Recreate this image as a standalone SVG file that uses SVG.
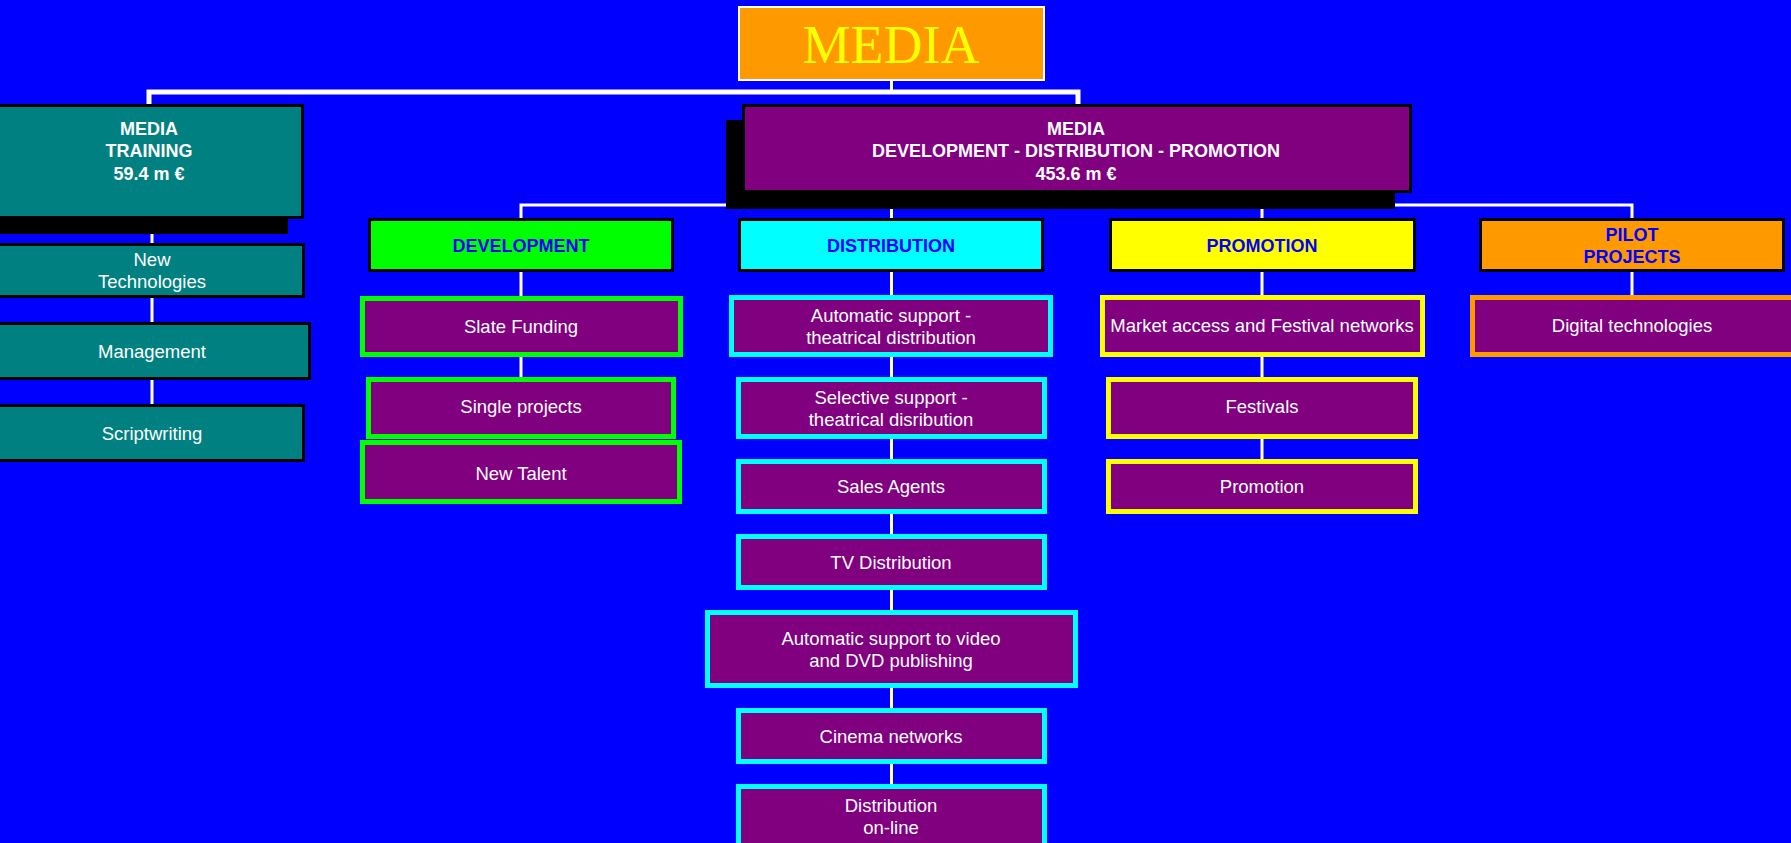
<svg xmlns="http://www.w3.org/2000/svg" width="1791" height="843" viewBox="0 0 1791 843">
<style>
.t{font-family:"Liberation Sans",Arial,sans-serif;font-size:18.5px;fill:#FFFFFF;text-anchor:middle}
.b{font-weight:bold;font-size:18px}
.h{font-family:"Liberation Sans",Arial,sans-serif;font-weight:bold;font-size:18px;fill:#0000FF;text-anchor:middle}
.teal{fill:#008080;stroke:#000;stroke-width:3}
.l2{stroke:#000;stroke-width:3}
.p{fill:#800080;stroke-width:5}
.g{stroke:#00FF00}.c{stroke:#00FFFF}.y{stroke:#FFFF00}.o{stroke:#FF9900}
.ln{stroke:#FFF;stroke-width:3;fill:none}
</style>
<rect x="0" y="0" width="1791" height="843" fill="#0000FF"/>
<g id="connectors">
<polyline class="ln" points="149,104 149,92 1078,92 1078,104" style="stroke-width:5"/>
<line class="ln" x1="891.5" y1="81" x2="891.5" y2="92"/>
<polyline class="ln" points="521,218 521,205 1632,205 1632,218"/>
<line class="ln" x1="891.5" y1="193" x2="891.5" y2="218"/>
<line class="ln" x1="1262" y1="205" x2="1262" y2="218"/>
<line class="ln" x1="152" y1="219" x2="152" y2="243"/>
<line class="ln" x1="152" y1="298" x2="152" y2="322"/>
<line class="ln" x1="152" y1="380" x2="152" y2="404"/>
<line class="ln" x1="521" y1="272" x2="521" y2="296"/>
<line class="ln" x1="521" y1="357" x2="521" y2="377"/>
<line class="ln" x1="891.5" y1="272" x2="891.5" y2="784"/>
<line class="ln" x1="1262" y1="272" x2="1262" y2="459"/>
<line class="ln" x1="1632" y1="272" x2="1632" y2="295"/>
</g>
<g id="media">
<rect x="739" y="7" width="305" height="73" fill="#FF9900" stroke="#FFF" stroke-width="2"/>
<text x="891" y="63" font-family="'Liberation Serif','Times New Roman',serif" font-size="54" fill="#FFFF00" text-anchor="middle">MEDIA</text>
</g>
<g id="training">
<rect x="-36" y="119" width="324" height="115" fill="#000"/>
<rect class="teal" x="-20" y="105.5" width="322.5" height="112"/>
<text class="t b" x="149" y="135">MEDIA</text>
<text class="t b" x="149" y="157">TRAINING</text>
<text class="t b" x="149" y="180">59.4 m €</text>
</g>
<g id="ddp">
<rect x="726" y="120" width="669" height="89" fill="#000"/>
<rect x="743.5" y="105.5" width="667" height="86" fill="#800080" stroke="#000" stroke-width="3"/>
<text class="t b" x="1076" y="135">MEDIA</text>
<text class="t b" x="1076" y="157">DEVELOPMENT - DISTRIBUTION - PROMOTION</text>
<text class="t b" x="1076" y="180">453.6 m €</text>
</g>
<g id="newtech"><rect class="teal" x="-20" y="244.5" width="323.5" height="52"/><text class="t" x="152" y="266">New</text><text class="t" x="152" y="288">Technologies</text></g>
<g id="management"><rect class="teal" x="-20" y="323.5" width="329.5" height="55"/><text class="t" x="152" y="358">Management</text></g>
<g id="scriptwriting"><rect class="teal" x="-20" y="405.5" width="323.5" height="55"/><text class="t" x="152" y="440">Scriptwriting</text></g>
<g id="development"><rect class="l2" fill="#00FF00" x="369.5" y="219.5" width="303" height="51"/><text class="h" x="521" y="252">DEVELOPMENT</text></g>
<g id="distribution"><rect class="l2" fill="#00FFFF" x="739.5" y="219.5" width="303" height="51"/><text class="h" x="891" y="252">DISTRIBUTION</text></g>
<g id="promotion"><rect class="l2" fill="#FFFF00" x="1110.5" y="219.5" width="304" height="51"/><text class="h" x="1262" y="252">PROMOTION</text></g>
<g id="pilot"><rect class="l2" fill="#FF9900" x="1480.5" y="219.5" width="303" height="51"/><text class="h" x="1632" y="241">PILOT</text><text class="h" x="1632" y="263">PROJECTS</text></g>
<g id="slate"><rect class="p g" x="362.5" y="298.5" width="318" height="56"/><text class="t" x="521" y="333">Slate Funding</text></g>
<g id="single"><rect class="p g" x="368.5" y="379.5" width="305" height="57"/><text class="t" x="521" y="413">Single projects</text></g>
<g id="newtalent"><rect class="p g" x="362.5" y="442.5" width="317" height="59"/><text class="t" x="521" y="480">New Talent</text></g>
<g id="autotheatrical"><rect class="p c" x="731.5" y="297.5" width="319" height="57"/><text class="t" x="891" y="322">Automatic support -</text><text class="t" x="891" y="344">theatrical distribution</text></g>
<g id="selective"><rect class="p c" x="738.5" y="379.5" width="306" height="57"/><text class="t" x="891" y="404">Selective support -</text><text class="t" x="891" y="426">theatrical disribution</text></g>
<g id="sales"><rect class="p c" x="738.5" y="461.5" width="306" height="50"/><text class="t" x="891" y="493">Sales Agents</text></g>
<g id="tv"><rect class="p c" x="738.5" y="536.5" width="306" height="51"/><text class="t" x="891" y="569">TV Distribution</text></g>
<g id="video"><rect class="p c" x="707.5" y="612.5" width="368" height="73"/><text class="t" x="891" y="645">Automatic support to video</text><text class="t" x="891" y="667">and DVD publishing</text></g>
<g id="cinema"><rect class="p c" x="738.5" y="710.5" width="306" height="51"/><text class="t" x="891" y="743">Cinema networks</text></g>
<g id="online"><rect class="p c" x="738.5" y="786.5" width="306" height="60"/><text class="t" x="891" y="812">Distribution</text><text class="t" x="891" y="834">on-line</text></g>
<g id="market"><rect class="p y" x="1102.5" y="297.5" width="320" height="57"/><text class="t" x="1262" y="332">Market access and Festival networks</text></g>
<g id="festivals"><rect class="p y" x="1108.5" y="379.5" width="307" height="57"/><text class="t" x="1262" y="413">Festivals</text></g>
<g id="promo2"><rect class="p y" x="1108.5" y="461.5" width="307" height="50"/><text class="t" x="1262" y="493">Promotion</text></g>
<g id="digital"><rect class="p o" x="1472.5" y="297.5" width="330" height="57"/><text class="t" x="1632" y="332">Digital technologies</text></g>
</svg>
